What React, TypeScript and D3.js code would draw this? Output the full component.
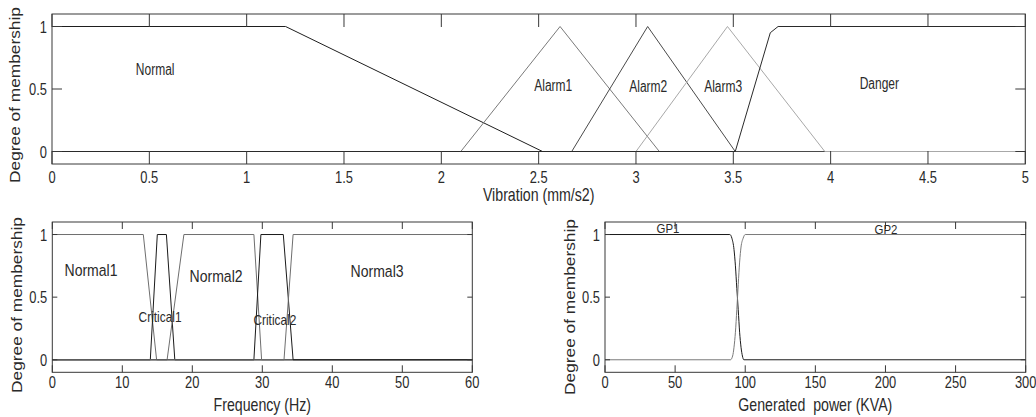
import React from "react";
import * as d3 from "d3";

type Pt = [number, number];

// vibration membership functions (mm/s2)
const vibNormal: Pt[] = [[0, 1], [1.2, 1], [2.52, 0], [5, 0]];
const vibAlarm1: Pt[] = [[0, 0], [2.1, 0], [2.61, 1], [3.12, 0], [5, 0]];
const vibAlarm2: Pt[] = [[0, 0], [2.67, 0], [3.06, 1], [3.51, 0], [5, 0]];
const vibAlarm3: Pt[] = [[0, 0], [3.0, 0], [3.47, 1], [3.97, 0], [5, 0]];
const vibDanger: Pt[] = [[0, 0], [3.51, 0], [3.69, 0.95], [3.73, 1], [5, 1]];

// frequency membership functions (Hz)
const freqNormal1: Pt[] = [[0, 1], [13, 1], [14.9, 0], [60, 0]];
const freqCritical1: Pt[] = [[0, 0], [14, 0], [15, 1], [16.3, 1], [17.5, 0], [60, 0]];
const freqNormal2: Pt[] = [[0, 0], [16.4, 0], [18.8, 1], [28.8, 1], [29.9, 0], [60, 0]];
const freqCritical2: Pt[] = [[0, 0], [28.8, 0], [29.8, 1], [33.0, 1], [34.4, 0], [60, 0]];
const freqNormal3: Pt[] = [[0, 0], [33.1, 0], [34.4, 1], [60, 1]];

// generated power membership functions (KVA)
const powGP1: Pt[] = [[0, 1], [89, 1], [90.5, 0.97], [92, 0.88], [93, 0.75], [94, 0.57], [95, 0.4], [96, 0.22], [97, 0.1], [98, 0.03], [99, 0], [300, 0]];
const powGP2: Pt[] = [[0, 0], [89.5, 0], [91, 0.03], [92, 0.1], [93, 0.22], [94, 0.4], [95, 0.6], [96, 0.78], [97, 0.9], [98.5, 0.97], [100, 1], [300, 1]];

const vibTicks = [0, 0.5, 1, 1.5, 2, 2.5, 3, 3.5, 4, 4.5, 5];
const freqTicks = [0, 10, 20, 30, 40, 50, 60];
const powTicks = [0, 50, 100, 150, 200, 250, 300];
const memTicks = [0, 0.5, 1];

const FONT = "'Liberation Sans', Arial, sans-serif";
const INK = "#2a2a2a";

function Txt(props: any) {
  const { x, y, size, sx, anchor, rot, children } = props;
  const tr = rot
    ? `translate(${x},${y}) rotate(-90) scale(1,${sx})`
    : `translate(${x},${y}) scale(${sx},1)`;
  return (
    <text
      transform={tr}
      fontSize={size}
      fontFamily={FONT}
      textAnchor={anchor || "middle"}
      fill={INK}
      style={{ whiteSpace: "pre" }}
    >
      {children}
    </text>
  );
}

function Panel(props: any) {
  const { box, domain, ticks, series, labels, xLabel, yLabelX, yLabelY, xt, yt, tickBase, xLabBase, lab } = props;
  const [x0, x1, yTop, yBot] = box;
  const x = d3.scaleLinear().domain(domain).range([x0, x1]);
  const y = d3.scaleLinear().domain([-0.1, 1.1]).range([yBot, yTop]);
  const line = d3
    .line<Pt>()
    .x(d => x(d[0]))
    .y(d => y(d[1]))
    .curve(props.curve || d3.curveLinear);

  return (
    <g>
      {series.map((s: any, i: number) => (
        <path key={i} d={line(s.pts) || ""} fill="none" stroke={s.color} strokeWidth={1} />
      ))}
      <rect x={x0} y={yTop} width={x1 - x0} height={yBot - yTop} fill="none" stroke="#383838" strokeWidth={1} />
      {ticks.map((t: number) => (
        <g key={"x" + t}>
          <line x1={x(t)} x2={x(t)} y1={yBot} y2={yBot - xt} stroke="#383838" />
          <line x1={x(t)} x2={x(t)} y1={yTop} y2={yTop + xt} stroke="#383838" />
          <Txt x={x(t)} y={yBot + tickBase} size={17} sx={0.76}>
            {String(t)}
          </Txt>
        </g>
      ))}
      {memTicks.map(t => (
        <g key={"y" + t}>
          <line x1={x0} x2={x0 + yt} y1={y(t)} y2={y(t)} stroke="#383838" />
          <line x1={x1} x2={x1 - yt} y1={y(t)} y2={y(t)} stroke="#383838" />
          <Txt x={x0 - 5} y={y(t) + 6} size={17} sx={0.76} anchor="end">
            {String(t)}
          </Txt>
        </g>
      ))}
      {labels.map((l: any) => (
        <Txt key={l.name} x={x(l.x)} y={y(l.y)} size={l.size || lab.size} sx={l.sx || lab.sx}>
          {l.name}
        </Txt>
      ))}
      <Txt x={(x0 + x1) / 2} y={yBot + xLabBase} size={17.5} sx={0.81}>
        {xLabel}
      </Txt>
      <Txt x={yLabelX} y={yLabelY} size={17.3} sx={0.8} rot>
        Degree of membership
      </Txt>
    </g>
  );
}

export default function App() {
  return (
    <svg
      width={1036}
      height={417}
      style={{ position: "absolute", left: 0, top: 0, background: "#fff" }}
    >
      <rect width={1036} height={417} fill="#fff" />
      <Panel
        box={[52, 1025.3, 14, 164]}
        domain={[0, 5]}
        ticks={vibTicks}
        xt={13}
        yt={10}
        tickBase={19}
        xLabBase={37}
        xLabel="Vibration (mm/s2)"
        yLabelX={20}
        yLabelY={95}
        lab={{ size: 16, sx: 0.75 }}
        series={[
          { pts: vibNormal, color: "#1e1e1e" },
          { pts: vibAlarm1, color: "#7a7a7a" },
          { pts: vibAlarm2, color: "#4a4a4a" },
          { pts: vibAlarm3, color: "#a8a8a8" },
          { pts: vibDanger, color: "#2a2a2a" },
        ]}
        labels={[
          { name: "Normal", x: 0.53, y: 0.612 },
          { name: "Alarm1", x: 2.575, y: 0.486 },
          { name: "Alarm2", x: 3.063, y: 0.478 },
          { name: "Alarm3", x: 3.448, y: 0.476 },
          { name: "Danger", x: 4.25, y: 0.497 },
        ]}
      />
      <Panel
        box={[52.3, 472.3, 222, 372.3]}
        domain={[0, 60]}
        ticks={freqTicks}
        xt={7}
        yt={5}
        tickBase={16}
        xLabBase={39}
        xLabel="Frequency (Hz)"
        yLabelX={22}
        yLabelY={305}
        lab={{ size: 16.5, sx: 0.85 }}
        series={[
          { pts: freqNormal1, color: "#6e6e6e" },
          { pts: freqCritical1, color: "#1a1a1a" },
          { pts: freqNormal2, color: "#6e6e6e" },
          { pts: freqCritical2, color: "#1a1a1a" },
          { pts: freqNormal3, color: "#6e6e6e" },
        ]}
        labels={[
          { name: "Normal1", x: 5.53, y: 0.665 },
          { name: "Normal2", x: 23.4, y: 0.622 },
          { name: "Normal3", x: 46.4, y: 0.662 },
          { name: "Critical1", x: 15.4, y: 0.302, size: 14 },
          { name: "Critical2", x: 31.8, y: 0.276, size: 14 },
        ]}
      />
      <Panel
        box={[605, 1025.7, 222, 372.3]}
        domain={[0, 300]}
        ticks={powTicks}
        xt={7}
        yt={5}
        tickBase={16}
        xLabBase={39}
        xLabel="Generated  power (KVA)"
        yLabelX={575}
        yLabelY={307}
        lab={{ size: 13, sx: 0.88 }}
        curve={d3.curveMonotoneX}
        series={[
          { pts: powGP1, color: "#1a1a1a" },
          { pts: powGP2, color: "#7a7a7a" },
        ]}
        labels={[
          { name: "GP1", x: 44.9, y: 1.016 },
          { name: "GP2", x: 200.4, y: 1.008 },
        ]}
      />
    </svg>
  );
}
